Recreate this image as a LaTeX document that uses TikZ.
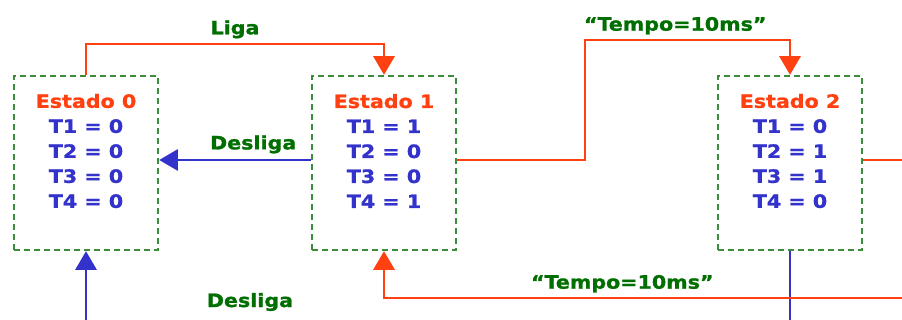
\documentclass[tikz,border=0pt]{standalone}
\usepackage{xcolor}
\usepackage{fontspec}
\newfontfamily\verd{DejaVu Sans}[FakeStretch=1.12,FakeBold=1.2]
\usepackage{tikz}
\usetikzlibrary{arrows.meta}

\definecolor{vermelho}{RGB}{255,64,16}
\definecolor{azul}{RGB}{51,51,204}
\definecolor{verde}{RGB}{0,110,0}
\definecolor{verdecx}{RGB}{60,140,60}

\begin{document}
\begin{tikzpicture}[x=0.75pt,y=-0.75pt,
    estado/.style={draw=verdecx,line width=1.8pt,dash pattern=on 4.5pt off 3pt,
      minimum width=108pt,minimum height=130.5pt,inner sep=0pt},
    vars/.style={align=center,text=azul,font=\verd\bfseries\fontsize{13.8}{18.75}\selectfont},
    rotulo/.style={text=verde,font=\verd\bfseries\fontsize{13.8}{16}\selectfont},
    liga/.style={draw=vermelho,line width=1.6pt},
    desl/.style={draw=azul,line width=1.3pt},
    >={Triangle[width=16pt,length=14pt]}]
              \useasboundingbox (0,0) rectangle (902,320);

              \node[estado] (e0) at (86,163) {};
              \node[estado] (e1) at (384,163) {};
              \node[estado] (e2) at (790,163) {};

              \node[vars] (v0) at (86,151) {\textcolor{vermelho}{Estado 0}\\T1 = 0\\T2 = 0\\T3 = 0\\T4 = 0};
              \node[vars] (v1) at (384,151) {\textcolor{vermelho}{Estado 1}\\T1 = 1\\T2 = 0\\T3 = 0\\T4 = 1};
              \node[vars] (v2) at (790,151) {\textcolor{vermelho}{Estado 2}\\T1 = 0\\T2 = 1\\T3 = 1\\T4 = 0};

              \coordinate (c1) at (585,40);
              \coordinate (d2) at (902,160);
              \coordinate (d3) at (790,320);
              \coordinate (d4) at (902,298);
              \coordinate (d5) at (86,320);

              \draw[liga,->] (e0.north) -- ++(0,-31) -| (e1.north) node[rotulo,pos=0.25,above] (l1) {Liga};
              \draw[desl,->] ([yshift=2.25pt]e1.west) -- ([yshift=2.25pt]e0.east) node[rotulo,pos=0.38,above,yshift=1pt] (l2) {Desliga};
              \draw[liga,->] ([yshift=2.25pt]e1.east) -| (c1) -| (e2.north) node[rotulo,pos=0.22,above] (l3) {“Tempo=10ms”};
              \draw[liga] ([yshift=2.25pt]e2.east) -- (d2);
              \draw[desl] (e2.south) -- (d3);
              \draw[liga,->] (d4) -| (e1.south) node[rotulo,pos=0.27,above] (l4) {“Tempo=10ms”};
              \draw[desl,->] (d5) -- (e0.south);

              \node[rotulo] (l5) at (250,302) {Desliga};
            \end{tikzpicture}
\end{document}
